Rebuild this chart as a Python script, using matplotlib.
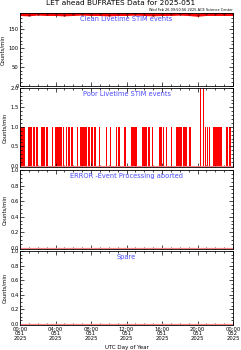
import matplotlib
matplotlib.use("Agg")
import matplotlib.pyplot as plt
import numpy as np
from matplotlib.ticker import MultipleLocator

# ---------------- data ----------------
TITLE = "LET ahead BUFRATES Data for 2025-051"
STAMP = "Wed Feb 26 09:50:56 2025 ACE Science Center"
PANEL_NAMES = ["Clean Livetime STIM events", "Poor Livetime STIM events",
               "ERROR -Event Processing aborted", "Spare"]
XTICK_LABELS = ["00:00\n051\n2025", "04:00\n051\n2025", "08:00\n051\n2025",
                "12:00\n051\n2025", "16:00\n051\n2025", "20:00\n051\n2025",
                "00:00\n052\n2025"]

# clean livetime: hourly samples, sitting at top of the scale
clean_hours = [0, 1, 2, 3, 4, 5, 6, 7, 8, 9, 10, 11, 12, 13, 14, 15, 16,
               17, 18, 19, 20, 21, 22, 23, 24]
clean_vals = [190, 189, 191, 190, 190, 189, 190, 191, 190, 190, 189, 190,
              190, 191, 190, 189, 190, 190, 191, 190, 188, 190, 190, 190, 190]

# poor livetime: times (hours) with 1 count/min
poor_hours = [0.11, 0.28, 0.45, 0.96, 1.13, 1.30, 1.58, 1.92, 2.48, 2.70,
              3.04, 3.66, 4.00, 4.17, 4.39, 4.62, 4.90, 5.24, 5.52, 5.86,
              6.48, 6.87, 6.99, 7.10, 7.21, 7.32, 7.49, 7.77, 8.11, 8.45,
              8.96, 9.75, 10.20, 10.87, 11.15, 11.83, 12.62, 12.85, 13.07,
              13.86, 14.08, 14.25, 14.54, 14.93, 15.77, 15.94, 16.17, 16.51,
              17.07, 17.69, 17.92, 18.14, 18.48, 18.70, 19.15, 20.34, 20.68,
              20.90, 21.13, 21.35, 21.86, 22.08, 22.31, 22.54, 22.70, 23.32,
              23.66]
poor_vals = [1] * 55 + [2, 2] + [1] * 10

error_hours = [0, 24]
error_vals = [0, 0]
spare_hours = [0, 24]
spare_vals = [0, 0]

# ---------------- figure ----------------
fig = plt.figure(figsize=(2.41, 3.5), dpi=100)
left, width = 0.083, 0.884
boxes = [(0.754, 0.963), (0.523, 0.749), (0.289, 0.514), (0.071, 0.283)]
ylims = [(-1, 194), (-0.03, 2.0), (-0.015, 1.0), (-0.015, 1.0)]
ymajor = [50, 0.5, 0.2, 0.2]
yminor = [10, 0.1, 0.05, 0.05]
yfmt = ["%d", "%.1f", "%.1f", "%.1f"]
blue = "#4a4aff"

axes = []
for i, (b, t) in enumerate(boxes):
    ax = fig.add_axes([left, b, width, t - b])
    ax.set_xlim(0, 24)
    ax.set_ylim(*ylims[i])
    ax.xaxis.set_major_locator(MultipleLocator(4))
    ax.xaxis.set_minor_locator(MultipleLocator(1))
    ax.yaxis.set_major_locator(MultipleLocator(ymajor[i]))
    ax.yaxis.set_minor_locator(MultipleLocator(yminor[i]))
    ax.yaxis.set_major_formatter(matplotlib.ticker.FormatStrFormatter(yfmt[i]))
    ax.tick_params(which="both", direction="in", top=True, right=True,
                   labelsize=3.8, width=0.5, pad=1)
    ax.tick_params(which="major", length=3)
    ax.tick_params(which="minor", length=1.5)
    for s in ax.spines.values():
        s.set_linewidth(0.6)
    ax.set_ylabel("Counts/min", fontsize=3.8, labelpad=2)
    ax.text(0.5, 0.965, PANEL_NAMES[i], transform=ax.transAxes, ha="center",
            va="top", color=blue, fontsize=4.8)
    if i < 3:
        ax.set_xticklabels([])
    axes.append(ax)

# panel 1
axes[0].plot(clean_hours, clean_vals, color="red", lw=2.2)
axes[0].plot(clean_hours, clean_vals, ls="none", marker=".", ms=1.2,
             color="#800000")

# panel 2
axes[1].bar(poor_hours, poor_vals, width=0.15, color="red", linewidth=0)
axes[1].axhline(0, color="#ff8080", lw=0.8)

# panels 3 and 4
axes[2].plot(error_hours, error_vals, color="#ff8080", lw=0.9)
axes[3].plot(spare_hours, spare_vals, color="#ff8080", lw=0.9)

axes[3].set_xticks([0, 4, 8, 12, 16, 20, 24])
axes[3].set_xticklabels(XTICK_LABELS, fontsize=3.8, linespacing=0.95)
axes[3].set_xlabel("UTC Day of Year", fontsize=4, labelpad=3)

fig.text(0.5, 0.999, TITLE, ha="center", va="top", fontsize=5.3)
fig.text(0.967, 0.966, STAMP, ha="right", va="bottom", fontsize=2.5)

fig.savefig("out.png", dpi=100)
